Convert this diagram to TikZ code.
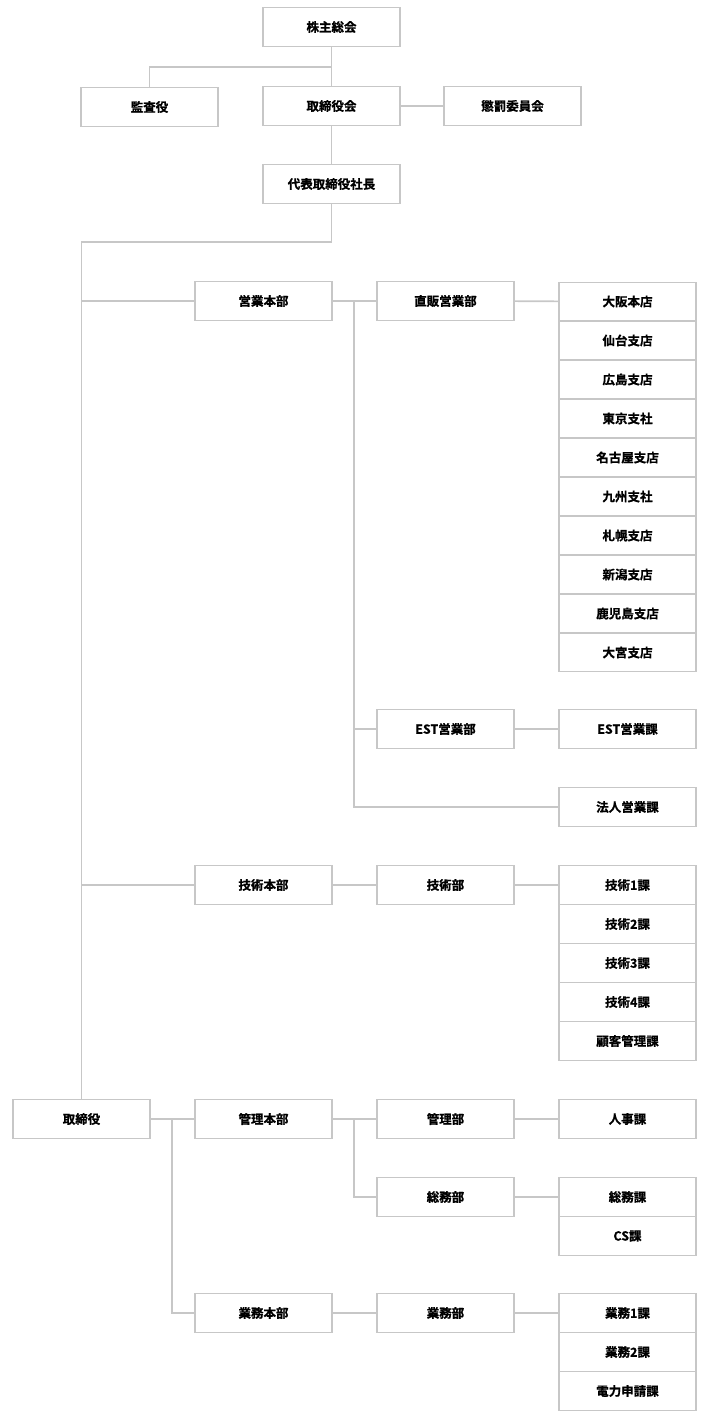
\documentclass[tikz,border=0pt]{standalone}
\usepackage{fontspec}
\setmainfont{Noto Sans CJK JP}[BoldFont={* Bold},BoldFeatures={FakeBold=0.8}]
\begin{document}
\begin{tikzpicture}[x=1pt,y=-1pt,
  box/.style={draw=black!22,line width=1.3pt,fill=white,minimum width=137pt,minimum height=38.5pt,inner sep=0pt,font=\fontsize{12.5}{12.5}\selectfont\bfseries},
  ln/.style={draw=black!22,line width=1.6pt}]
\useasboundingbox (0,0) rectangle (708,1418);
\node[box] (kabu) at (331.5,27) {株主総会};
\node[box] (kansa) at (149.5,107) {監査役};
\node[box] (tori) at (331.5,106) {取締役会};
\node[box] (chou) at (512.5,106) {懲罰委員会};
\node[box] (dai) at (331.5,184) {代表取締役社長};
\node[box] (tk) at (81.5,1119) {取締役};
\node[box] (ei) at (263.5,301) {営業本部};
\node[box] (choku) at (445.5,301) {直販営業部};
\foreach \t [count=\i from 0] in {大阪本店,仙台支店,広島支店,東京支社,名古屋支店,九州支社,札幌支店,新潟支店,鹿児島支店,大宮支店}
  \node[box] (s\i) at (627.5,301.5+39*\i) {\t};
\node[box] (est) at (445.5,729) {EST営業部};
\node[box] (estk) at (627.5,729) {EST営業課};
\node[box] (hou) at (627.5,807) {法人営業課};
\node[box] (gh) at (263.5,885) {技術本部};
\node[box] (gb) at (445.5,885) {技術部};
\foreach \t [count=\i from 0] in {技術1課,技術2課,技術3課,技術4課,顧客管理課}
  \node[box] (g\i) at (627.5,885+39*\i) {\t};
\node[box] (kh) at (263.5,1119) {管理本部};
\node[box] (kb) at (445.5,1119) {管理部};
\node[box] (jin) at (627.5,1119) {人事課};
\node[box] (sb) at (445.5,1197) {総務部};
\node[box] (sk) at (627.5,1197) {総務課};
\node[box] (cs) at (627.5,1236) {CS課};
\node[box] (gyh) at (263.5,1313) {業務本部};
\node[box] (gyb) at (445.5,1313) {業務部};
\node[box] (gy0) at (627.5,1313) {業務1課};
\node[box] (gy1) at (627.5,1352) {業務2課};
\node[box] (gy2) at (627.5,1391) {電力申請課};
\coordinate (b1) at (331.5,67);
\coordinate (c1) at (331.5,242);
\coordinate (c2) at (81.5,242);
\coordinate (t1) at (81.5,301);
\coordinate (t2) at (81.5,885);
\coordinate (e1) at (354,301);
\coordinate (e2) at (354,729);
\coordinate (m1) at (172,1119);
\coordinate (m2) at (354,1119);
\draw[ln] (kabu.south) -- (tori.north);
\draw[ln] (b1) -| (kansa.north);
\draw[ln] (tori) -- (chou);
\draw[ln] (tori.south) -- (dai.north);
\draw[ln] (dai.south) -- (c1) -- (c2) -- (tk.north);
\draw[ln] (t1) -- (ei.west);
\draw[ln] (t2) -- (gh.west);
\draw[ln] (ei) -- (choku);
\draw[ln] (choku) -- (s0);
\draw[ln] (e1) |- (est.west);
\draw[ln] (e2) |- (hou.west);
\draw[ln] (est) -- (estk);
\draw[ln] (gh) -- (gb);
\draw[ln] (gb) -- (g0);
\draw[ln] (tk) -- (kh);
\draw[ln] (m1) |- (gyh.west);
\draw[ln] (kh) -- (kb);
\draw[ln] (m2) |- (sb.west);
\draw[ln] (kb) -- (jin);
\draw[ln] (sb) -- (sk);
\draw[ln] (gyh) -- (gyb);
\draw[ln] (gyb) -- (gy0);
\end{tikzpicture}
\end{document}
